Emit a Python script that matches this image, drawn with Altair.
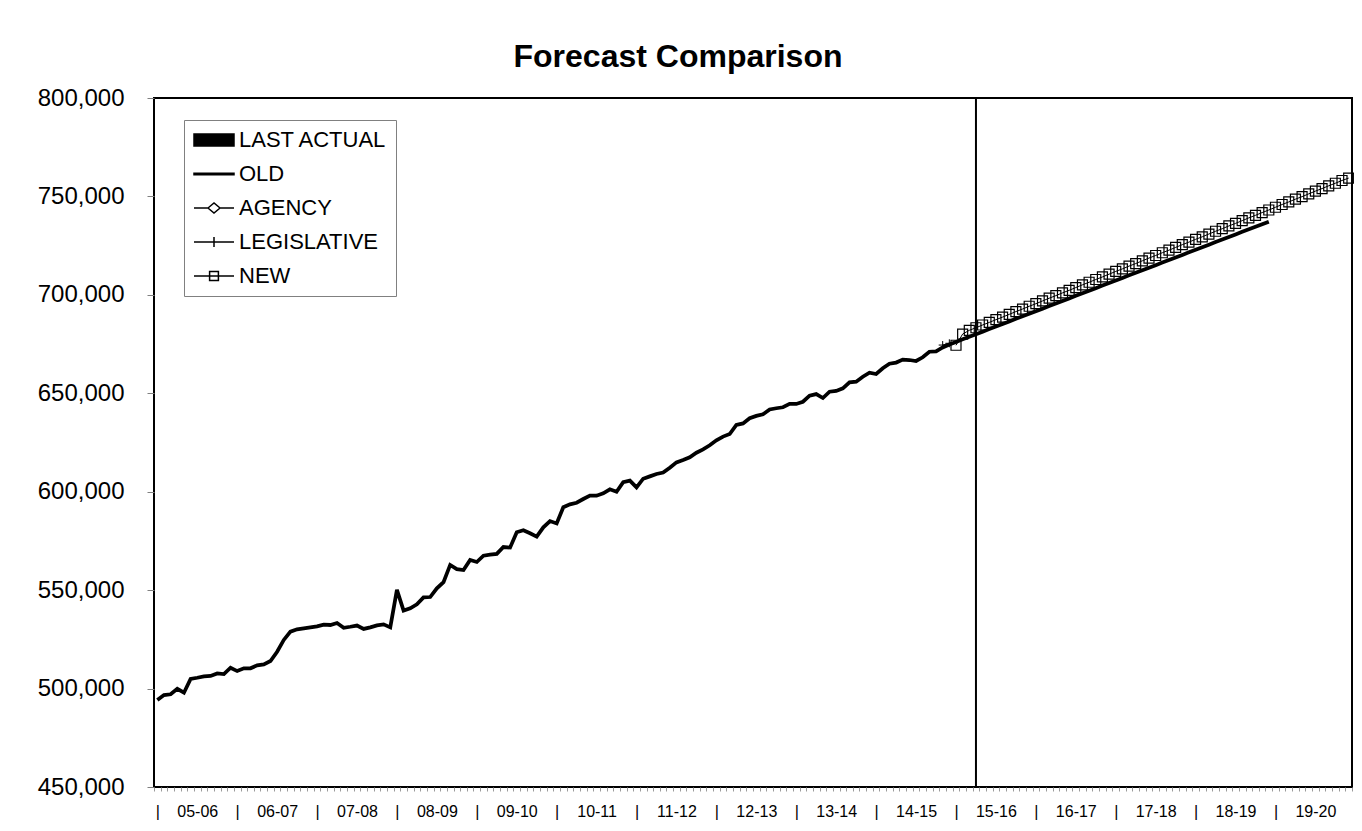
import json
import altair as alt
import pandas as pd

TITLE = "Forecast Comparison"
SERIES = ["LAST ACTUAL", "OLD", "AGENCY", "LEGISLATIVE", "NEW"]
YEARS = ["05-06", "06-07", "07-08", "08-09", "09-10", "10-11", "11-12", "12-13",
         "13-14", "14-15", "15-16", "16-17", "17-18", "18-19", "19-20"]
Y_TICKS = [450000, 500000, 550000, 600000, 650000, 700000, 750000, 800000]
N_MONTHS = 180

# OLD: actuals (month 0 = Jul 2005 .. month 118) then old forecast (119 .. 167)
OLD_ACTUAL = [
    494200, 496700, 497100, 499900, 497900, 504900, 505500, 506200, 506400, 507700,
    507400, 510600, 508900, 510300, 510300, 511800, 512300, 514000, 518700, 524700,
    528900, 530100, 530600, 531100, 531600, 532500, 532300, 533300, 530900, 531400,
    532000, 530300, 531100, 532100, 532600, 531100, 550100, 539600, 540800, 542800,
    546300, 546500, 550900, 554100, 562800, 560700, 560200, 565300, 564300, 567500,
    568000, 568400, 571900, 571600, 579400, 580400, 578900, 577200, 581900, 585100,
    583900, 592100, 593600, 594400, 596300, 598000, 598000, 599200, 601200, 600000,
    604800, 605600, 602200, 606600, 607800, 609000, 609700, 612200, 614900, 616100,
    617500, 619800, 621500, 623600, 626100, 628000, 629300, 633900, 634700, 637300,
    638500, 639300, 641800, 642400, 642900, 644600, 644600, 645700, 648800, 649600,
    647600, 650800, 651200, 652500, 655600, 655900, 658400, 660500, 659800, 662700,
    665000, 665600, 667100, 666900, 666400, 668300, 671100, 671300, 673300,
]
OLD_FORECAST = [
    674800, 676100, 677400, 678700, 680000, 681300, 682600, 683900, 685200, 686500,
    687800, 689100, 690400, 691700, 693000, 694300, 695600, 696900, 698200, 699500,
    700800, 702100, 703400, 704700, 706000, 707300, 708600, 709900, 711200, 712500,
    713800, 715100, 716400, 717700, 719000, 720300, 721600, 722900, 724200, 725500,
    726800, 728100, 729400, 730700, 732000, 733300, 734600, 735900, 737200,
]
OLD_START = 0

LEGIS_START = 118
LEGIS_VALUES = [674500, 675400]

NEW_START = 120
NEW_VALUES = [
    674400, 680100, 682000, 683300, 684700, 686000, 687400, 688700, 690100, 691500,
    692800, 694200, 695500, 696900, 698300, 699600, 701000, 702300, 703700, 705100,
    706400, 707800, 709100, 710500, 711900, 713200, 714600, 715900, 717300, 718700,
    720000, 721400, 722700, 724100, 725500, 726800, 728200, 729500, 730900, 732300,
    733600, 735000, 736300, 737700, 739100, 740400, 741800, 743100, 744500, 745900,
    747200, 748600, 749900, 751300, 752700, 754000, 755400, 756700, 758100, 759300,
]

LAST_ACTUAL_MONTH = 123
LAST_ACTUAL_VALUE = 800000

LEGEND_PATHS = [
    "M-1,-0.3H1V0.3H-1Z",
    "M-1,-0.04H1V0.04H-1Z",
    "M-1,0H-0.3M0.3,0H1M-0.3,0L0,-0.25L0.3,0L0,0.25Z",
    "M-1,0H1M0,-0.25V0.25",
    "M-1,0H1M-0.22,-0.22H0.22V0.22H-0.22Z",
]
LEGEND_FILLS = ["black", "black", "white", "white", "white"]

PLOT_W = 1198
PLOT_H = 689
FONT = "Liberation Sans"


def frame(name, start, values):
    return pd.DataFrame({
        "series": name,
        "month": [start + i + 0.5 for i in range(len(values))],
        "value": values,
    })


old_df = frame("OLD", OLD_START, OLD_ACTUAL + OLD_FORECAST)
legis_df = frame("LEGISLATIVE", LEGIS_START, LEGIS_VALUES)
new_df = frame("NEW", NEW_START, NEW_VALUES)
last_df = pd.DataFrame({"series": ["LAST ACTUAL"], "month": [LAST_ACTUAL_MONTH + 0.5],
                        "value": [LAST_ACTUAL_VALUE], "base": [Y_TICKS[0]]})
legend_df = pd.DataFrame({"series": SERIES, "month": [0.5] * len(SERIES),
                          "value": [Y_TICKS[0]] * len(SERIES)})

label_expr = (
    "(datum.value % 12 == 0 && datum.value < 180) ? '|' : "
    f"(datum.value % 12 == 6 ? {json.dumps(YEARS)}[floor(datum.value / 12)] : '')"
)

x_enc = alt.X(
    "month:Q",
    scale=alt.Scale(domain=[0, N_MONTHS], nice=False, zero=False),
    axis=alt.Axis(
        title=None, values=list(range(0, N_MONTHS + 1)), labelExpr=label_expr,
        labelOffset=PLOT_W / N_MONTHS / 2, labelOverlap=False, labelFlush=False,
        labelBound=False, tickSize=4, tickColor="#9a9a9a", tickWidth=1,
        labelFont="Liberation Sans Narrow, Arial Narrow, Liberation Sans, Arial",
        labelFontSize=16, labelColor="black", labelPadding=12, domain=False, grid=False,
    ),
)
y_enc = alt.Y(
    "value:Q",
    scale=alt.Scale(domain=[Y_TICKS[0], Y_TICKS[-1]], nice=False, zero=False),
    axis=alt.Axis(
        title=None, values=Y_TICKS, format=",d", tickSize=7, tickColor="#808080",
        tickWidth=1, labelFont=FONT, labelFontSize=24, labelColor="black",
        labelPadding=23, domain=False, grid=False,
    ),
)

legend_opts = dict(
    title=None, orient="none", legendX=30, legendY=22, padding=9,
    strokeColor="#808080", fillColor="white", symbolSize=1600,
    symbolStrokeWidth=1.5, symbolOpacity=1,
    labelFont=FONT, labelFontSize=22, labelColor="black", labelOffset=4,
    rowPadding=12, clipHeight=22, labelLimit=400,
)

last_layer = alt.Chart(last_df).mark_rule(color="black", strokeWidth=2).encode(
    x=x_enc, y=y_enc, y2="base:Q")

old_layer = alt.Chart(old_df).mark_line(color="black", strokeWidth=3.75).encode(
    x=x_enc, y=y_enc)

legis_line = alt.Chart(legis_df).mark_line(color="black", strokeWidth=1).encode(
    x=x_enc, y=y_enc)
legis_pts = alt.Chart(legis_df).mark_point(
    shape="M-1,0H1M0,-1V1", size=64, filled=False, color="black", strokeWidth=1,
    opacity=1).encode(x=x_enc, y=y_enc)

new_line = alt.Chart(new_df).mark_line(color="black", strokeWidth=1).encode(
    x=x_enc, y=y_enc)
new_pts = alt.Chart(new_df).mark_point(
    shape="square", size=100, filled=False, color="black", strokeWidth=1.2,
    opacity=1).encode(x=x_enc, y=y_enc)

legend_layer = alt.Chart(legend_df).mark_point(
    opacity=0, stroke="black", strokeWidth=1.5, filled=False
).encode(
    x=x_enc, y=y_enc,
    shape=alt.Shape("series:N", scale=alt.Scale(domain=SERIES, range=LEGEND_PATHS),
                    legend=alt.Legend(**legend_opts)),
    fill=alt.Fill("series:N", scale=alt.Scale(domain=SERIES, range=LEGEND_FILLS),
                  legend=alt.Legend(**legend_opts)),
)

chart = alt.layer(
    last_layer, old_layer, legis_line, legis_pts, new_line, new_pts, legend_layer
).properties(
    width=PLOT_W, height=PLOT_H,
    title=alt.TitleParams(TITLE, font=FONT, fontSize=32, fontWeight="bold",
                          color="black", anchor="middle", dx=-75, offset=12),
    autosize=alt.AutoSizeParams(type="none"),
    padding={"left": 146, "top": 90, "right": 2, "bottom": 33},
    background="white",
).configure_view(
    stroke="black", strokeWidth=2,
)

chart.save("out.html", embed_options={"renderer": "svg", "actions": False})
